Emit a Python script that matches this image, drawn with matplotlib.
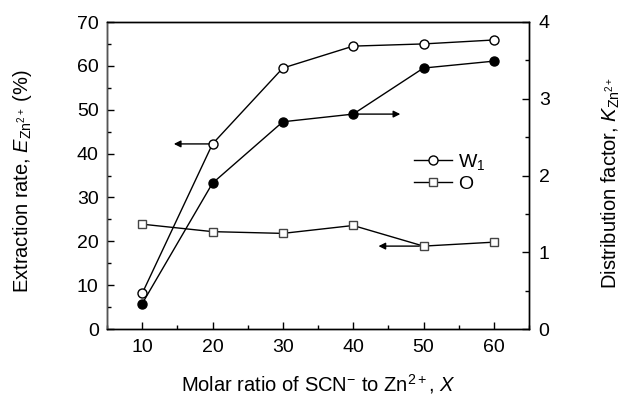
import matplotlib
matplotlib.use("Agg")
import matplotlib.pyplot as plt
from matplotlib.ticker import MultipleLocator

plt.rcParams['font.family'] = ['Liberation Sans', 'DejaVu Sans']
plt.rcParams['mathtext.fontset'] = 'custom'
plt.rcParams['mathtext.rm'] = 'Liberation Sans'
plt.rcParams['mathtext.it'] = 'Liberation Sans:italic'
plt.rcParams['mathtext.bf'] = 'Liberation Sans:bold'

x = [10, 20, 30, 40, 50, 60]
w1_extraction = [8.1, 42.2, 59.5, 64.5, 65.0, 65.9]
o_extraction = [23.9, 22.2, 21.8, 23.6, 18.9, 19.8]
k_factor = [0.33, 1.90, 2.70, 2.80, 3.40, 3.49]

fig = plt.figure(figsize=(6.24, 4.01), dpi=100)
ax = fig.add_axes([107/624, 1-329/401, (529-107)/624, (329-22)/401])
ax2 = ax.twinx()

ax.plot(x, w1_extraction, '-o', color='black', lw=1.0, ms=6.5,
        mfc='white', mec='black', mew=1.0, label='W$_{1}$', zorder=3)
ax.plot(x, o_extraction, '-s', color='black', lw=1.0, ms=6,
        mfc='white', mec='#444444', mew=1.0, label='O', zorder=3)
ax2.plot(x, k_factor, '-o', color='black', lw=1.0, ms=6.5,
         mfc='black', mec='black', zorder=3)

ax.set_xlim(5, 65)
ax.set_ylim(0, 70)
ax2.set_ylim(0, 4)

ax.xaxis.set_major_locator(MultipleLocator(10))
ax.xaxis.set_minor_locator(MultipleLocator(5))
ax.yaxis.set_major_locator(MultipleLocator(10))
ax.yaxis.set_minor_locator(MultipleLocator(5))
ax2.yaxis.set_major_locator(MultipleLocator(1))
ax2.yaxis.set_minor_locator(MultipleLocator(0.5))

ax.tick_params(axis='both', which='both', direction='in', labelsize=14, top=False, right=False)
ax.tick_params(which='major', length=5, width=1)
ax.tick_params(which='minor', length=3, width=1)
ax2.tick_params(axis='y', which='both', direction='in', labelsize=14)
ax2.tick_params(which='major', length=5, width=1)
ax2.tick_params(which='minor', length=3, width=1)
ax.tick_params(axis='x', pad=7)
ax.tick_params(axis='y', pad=6)
ax2.tick_params(axis='y', pad=7)

for s in ax.spines.values():
    s.set_linewidth(1.0)
for s in ax2.spines.values():
    s.set_linewidth(1.0)
ax2.spines['left'].set_color('#555555')

ax.set_xlabel('Molar ratio of SCN$^{-}$ to Zn$^{2+}$, $X$', fontsize=14.5, labelpad=12)
fig.text(23/624, 1-181/401, 'Extraction rate, $E_{\\mathrm{Zn}^{2+}}$ (%)', fontsize=14.5,
         rotation=90, ha='center', va='center')
fig.text(611/624, 1-183/401, 'Distribution factor, $K_{\\mathrm{Zn}^{2+}}$', fontsize=14.5,
         rotation=90, ha='center', va='center')

arrow = dict(arrowstyle='-|>', color='black', lw=1.0, mutation_scale=10, shrinkA=0, shrinkB=0)
ax.annotate('', xy=(14.5, 42.2), xytext=(19.5, 42.2), arrowprops=arrow)
ax2.annotate('', xy=(46.7, 2.80), xytext=(40.5, 2.80), arrowprops=arrow)
ax.annotate('', xy=(43.6, 18.9), xytext=(49.4, 18.9), arrowprops=arrow)

leg = ax.legend(loc='upper left', bbox_to_anchor=(0.685, 0.635), frameon=False,
                fontsize=14, handlelength=2.0, handletextpad=0.3, labelspacing=0.2)

fig.savefig('out.png', dpi=100)
